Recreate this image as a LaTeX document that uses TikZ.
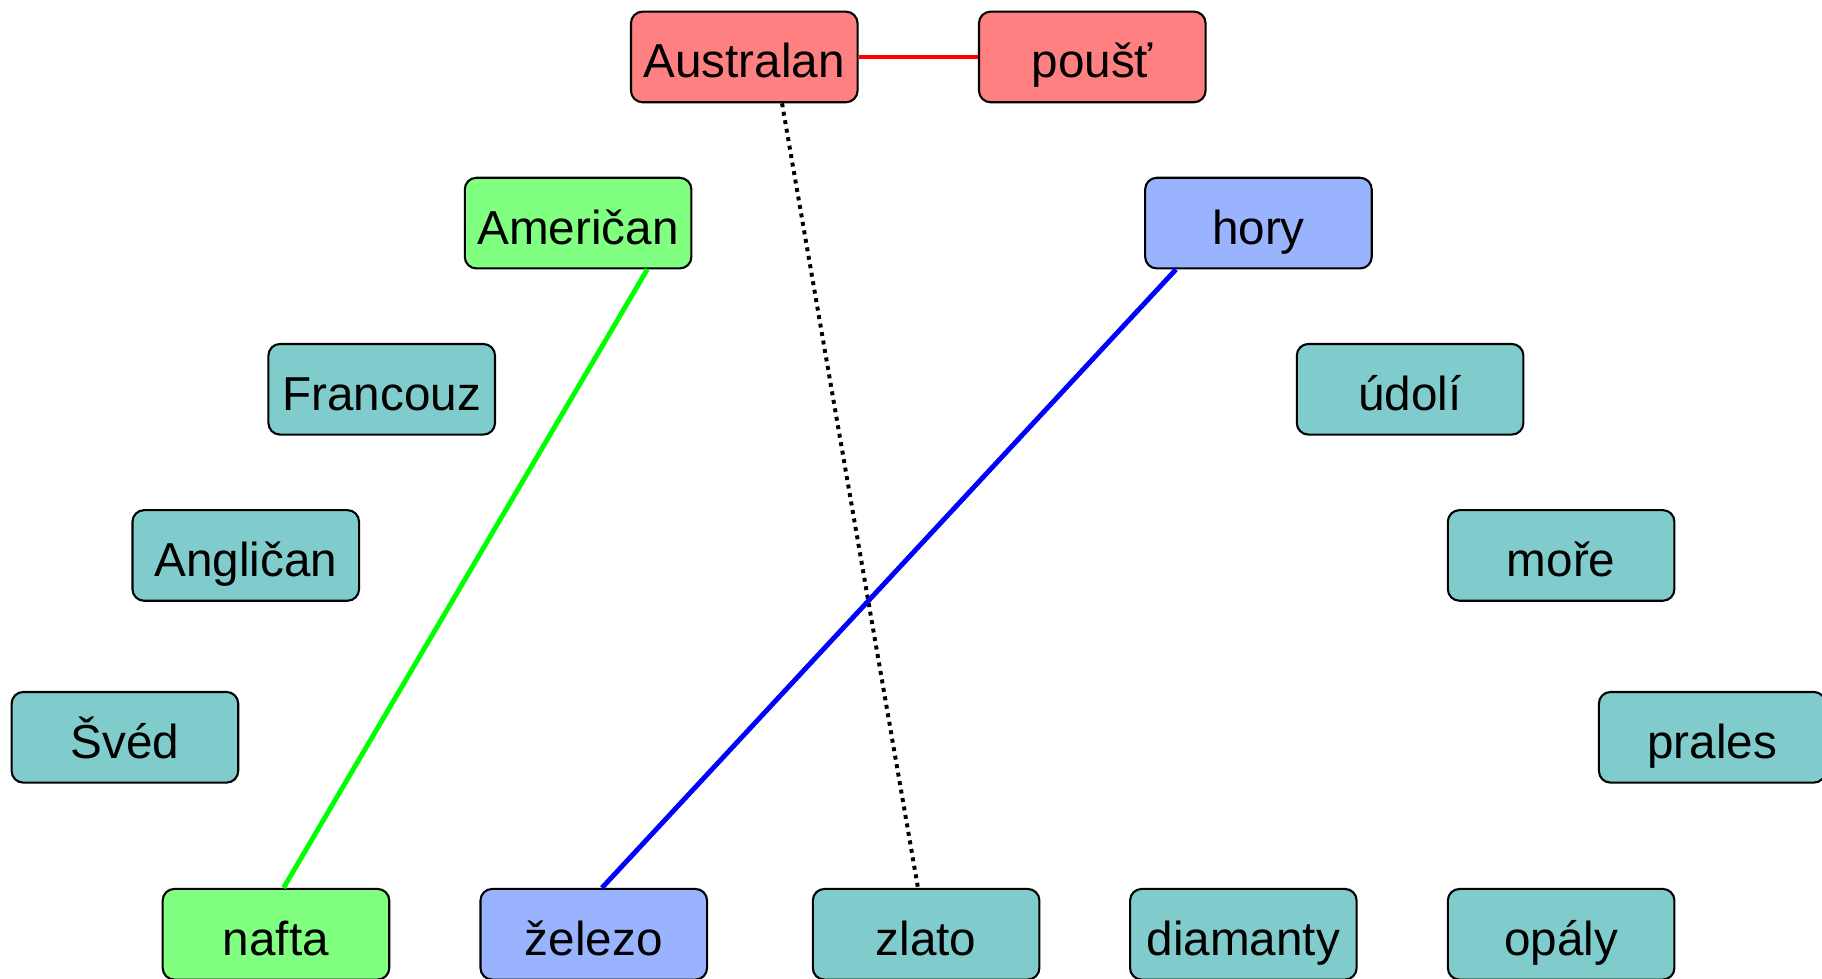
\documentclass[tikz,border=0pt]{standalone}
\usepackage{fontspec}
\setmainfont{Liberation Sans}
\definecolor{cred}{HTML}{FF8080}
\definecolor{cgreen}{HTML}{80FF80}
\definecolor{cblue}{HTML}{99B3FF}
\definecolor{cteal}{HTML}{80CCCC}
\begin{document}
\begin{tikzpicture}[x=0.5pt,y=-0.5pt,
  box/.style={draw=black,line width=0.9pt,rounded corners=5pt,minimum width=97.5pt,minimum height=39pt,inner sep=0pt,
    text height=18pt,text depth=0pt,font=\fontsize{20.5}{24}\selectfont},
  redbox/.style={box,fill=cred},
  greenbox/.style={box,fill=cgreen},
  bluebox/.style={box,fill=cblue},
  tealbox/.style={box,fill=cteal},
  link/.style={line width=2.1pt},
  dotlink/.style={line width=1.7pt,dash pattern=on 1.7pt off 2pt}]
\useasboundingbox (0,0) rectangle (1568,842);
\node[redbox] (australan) at (640.5,49) {Australan};
\node[redbox] (poust) at (940,49) {poušť};
\node[greenbox] (american) at (497.5,192) {Američan};
\node[bluebox] (hory) at (1083,192) {hory};
\node[tealbox] (francouz) at (328.5,335) {Francouz};
\node[tealbox] (udoli) at (1213.5,335) {údolí};
\node[tealbox] (anglican) at (211.5,478) {Angličan};
\node[tealbox] (more) at (1343.5,478) {moře};
\node[tealbox] (sved) at (107.5,634.5) {Švéd};
\node[tealbox] (prales) at (1473.5,634.5) {prales};
\node[greenbox] (nafta) at (237.5,804) {nafta};
\node[bluebox] (zelezo) at (511,804) {železo};
\node[tealbox] (zlato) at (797,804) {zlato};
\node[tealbox] (diamanty) at (1070,804) {diamanty};
\node[tealbox] (opaly) at (1343.5,804) {opály};
\draw[link,red] (australan) -- (poust);
\draw[dotlink,black] ([xshift=16.25pt]australan.south) -- ([xshift=-3.5pt]zlato.north);
\draw[link,green] ([xshift=29.75pt]american.south) -- ([xshift=3.25pt]nafta.north);
\draw[link,blue] ([xshift=-35.5pt]hory.south) -- ([xshift=3.5pt]zelezo.north);
\end{tikzpicture}
\end{document}
